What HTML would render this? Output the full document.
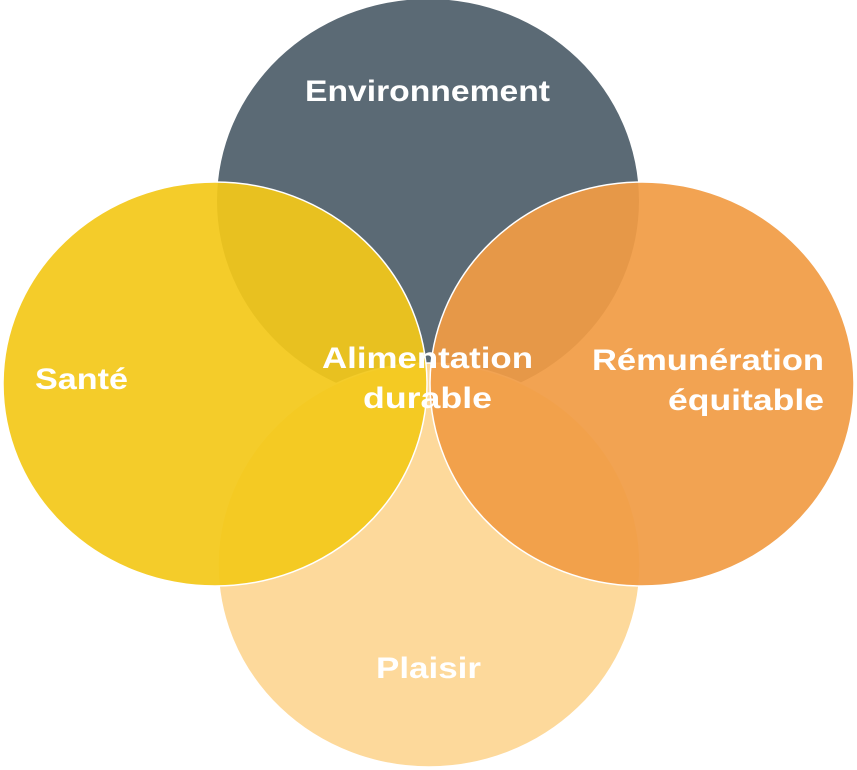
<!DOCTYPE html>
<html><head><meta charset="utf-8"><style>
html,body{margin:0;padding:0;background:#fff;}
svg{display:block;}
text{font-family:"Liberation Sans",sans-serif;font-weight:bold;fill:#fff;font-size:30px;}
</style></head><body>
<svg width="857" height="770" viewBox="0 0 857 770">
<ellipse cx="428" cy="201" rx="211" ry="202" fill="#5b6a75"/>
<ellipse cx="429" cy="565" rx="211" ry="202" fill="#fdd99b" stroke="#fff" stroke-width="1.5"/>
<ellipse cx="215" cy="384" rx="212" ry="202" fill="#f3c81a" fill-opacity="0.93" stroke="#fff" stroke-width="1.5"/>
<ellipse cx="642" cy="384" rx="212" ry="202" fill="#f19c45" fill-opacity="0.93" stroke="#fff" stroke-width="1.5"/>
<text x="305" y="101" textLength="245" lengthAdjust="spacingAndGlyphs">Environnement</text>
<text x="35" y="389" textLength="93" lengthAdjust="spacingAndGlyphs">Santé</text>
<text x="322" y="368" textLength="211" lengthAdjust="spacingAndGlyphs">Alimentation</text>
<text x="363" y="408" textLength="129" lengthAdjust="spacingAndGlyphs">durable</text>
<text x="592" y="370" textLength="232" lengthAdjust="spacingAndGlyphs">Rémunération</text>
<text x="668" y="410" textLength="156" lengthAdjust="spacingAndGlyphs">équitable</text>
<text x="376" y="678" textLength="105" lengthAdjust="spacingAndGlyphs">Plaisir</text>
</svg>
</body></html>
